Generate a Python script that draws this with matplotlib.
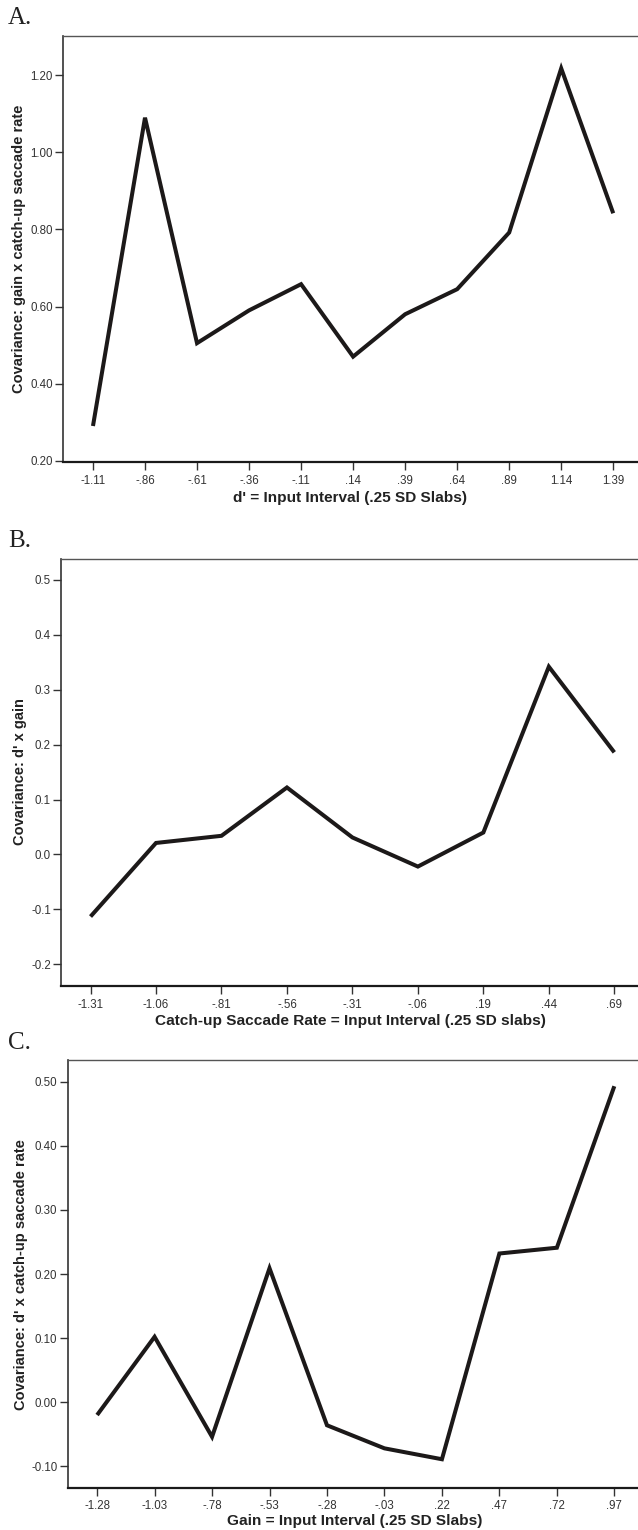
import matplotlib
matplotlib.use("Agg")
import matplotlib.pyplot as plt

# ---------------- data ----------------
a_x = [-1.11, -0.86, -0.61, -0.36, -0.11, 0.14, 0.39, 0.64, 0.89, 1.14, 1.39]
a_labels = ["-1.11", "-.86", "-.61", "-.36", "-.11", ".14", ".39", ".64", ".89", "1.14", "1.39"]
a_y = [0.29, 1.09, 0.505, 0.59, 0.658, 0.47, 0.58, 0.645, 0.792, 1.218, 0.842]
a_yticks = [0.20, 0.40, 0.60, 0.80, 1.00, 1.20]
a_ytick_labels = ["0.20", "0.40", "0.60", "0.80", "1.00", "1.20"]

b_x = [-1.31, -1.06, -0.81, -0.56, -0.31, -0.06, 0.19, 0.44, 0.69]
b_labels = ["-1.31", "-1.06", "-.81", "-.56", "-.31", "-.06", ".19", ".44", ".69"]
b_y = [-0.113, 0.021, 0.034, 0.122, 0.031, -0.022, 0.040, 0.342, 0.186]
b_yticks = [-0.2, -0.1, 0.0, 0.1, 0.2, 0.3, 0.4, 0.5]
b_ytick_labels = ["-0.2", "-0.1", "0.0", "0.1", "0.2", "0.3", "0.4", "0.5"]

c_x = [-1.28, -1.03, -0.78, -0.53, -0.28, -0.03, 0.22, 0.47, 0.72, 0.97]
c_labels = ["-1.28", "-1.03", "-.78", "-.53", "-.28", "-.03", ".22", ".47", ".72", ".97"]
c_y = [-0.020, 0.102, -0.054, 0.209, -0.036, -0.072, -0.089, 0.232, 0.241, 0.493]
c_yticks = [-0.10, 0.00, 0.10, 0.20, 0.30, 0.40, 0.50]
c_ytick_labels = ["-0.10", "0.00", "0.10", "0.20", "0.30", "0.40", "0.50"]

letters = ["A.", "B.", "C."]
xlabels = ["d' = Input Interval (.25 SD Slabs)",
           "Catch-up Saccade Rate = Input Interval (.25 SD slabs)",
           "Gain = Input Interval (.25 SD Slabs)"]
ylabels = ["Covariance: gain x catch-up saccade rate",
           "Covariance: d' x gain",
           "Covariance: d' x catch-up saccade rate"]

# ---------------- layout ----------------
W, H = 638, 1530
fig = plt.figure(figsize=(W / 100, H / 100), dpi=100)

def fx(px):
    return px / W

def fy(py):
    return 1 - py / H

panels = [
    dict(x=a_x, y=a_y, xl=a_labels, yt=a_yticks, ytl=a_ytick_labels,
         box=(63.3, 36, 462), xlim=(-1.2526, 1.509), ylim=(0.1966, 1.302),
         letter=(8, 24), xlab=(350.5, 498), ylab=(19.5, 249)),
    dict(x=b_x, y=b_y, xl=b_labels, yt=b_yticks, ytl=b_ytick_labels,
         box=(61.2, 558.5, 986), xlim=(-1.422, 0.7805), ylim=(-0.2395, 0.539),
         letter=(8, 547), xlab=(350.5, 1021), ylab=(20.4, 772)),
    dict(x=c_x, y=c_y, xl=c_labels, yt=c_yticks, ytl=c_ytick_labels,
         box=(67.8, 1060, 1487.7), xlim=(-1.4075, 1.073), ylim=(-0.1334, 0.5339),
         letter=(8, 1049), xlab=(355, 1521.5), ylab=(21, 1275)),
]

tick_font = dict(family="Liberation Sans", size=8.3, color="#333333")
ylabel_font = dict(family="Liberation Sans", weight="bold", size=10.5, color="#222222")
xlabel_font = dict(family="Liberation Sans", weight="bold", size=11.1, color="#222222")

for i, p in enumerate(panels):
    left, top, bottom = p["box"]
    ax = fig.add_axes([fx(left), fy(bottom), 1 - fx(left), (bottom - top) / H])
    ax.plot(p["x"], p["y"], color="#1c1919", lw=2.9, solid_joinstyle="miter",
            solid_capstyle="butt")
    ax.set_xlim(*p["xlim"])
    ax.set_ylim(*p["ylim"])
    ax.set_xticks(p["x"])
    ax.set_xticklabels(p["xl"], fontdict=tick_font)
    ax.set_yticks(p["yt"])
    ax.set_yticklabels(p["ytl"], fontdict=tick_font)
    ax.tick_params(axis="both", direction="out", length=5.5, width=1.0,
                   color="#333333")
    ax.tick_params(axis="x", pad=3.5)
    ax.tick_params(axis="y", pad=2)
    ax.spines["right"].set_visible(False)
    ax.spines["top"].set_color("#555555")
    ax.spines["top"].set_linewidth(1.0)
    ax.spines["left"].set_color("#333333")
    ax.spines["left"].set_linewidth(1.2)
    ax.spines["bottom"].set_color("#1a1a1a")
    ax.spines["bottom"].set_linewidth(1.6)

    lx, ly = p["letter"]
    fig.text(fx(lx), fy(ly), letters[i], family="Liberation Serif", size=18,
             ha="left", va="baseline", color="#222222")
    xx, xy = p["xlab"]
    fig.text(fx(xx), fy(xy), xlabels[i], ha="center", va="center", **xlabel_font)
    yx, yy = p["ylab"]
    fig.text(fx(yx), fy(yy), ylabels[i], ha="center", va="center",
             rotation=90, **ylabel_font)

fig.savefig("out.png", dpi=100)
